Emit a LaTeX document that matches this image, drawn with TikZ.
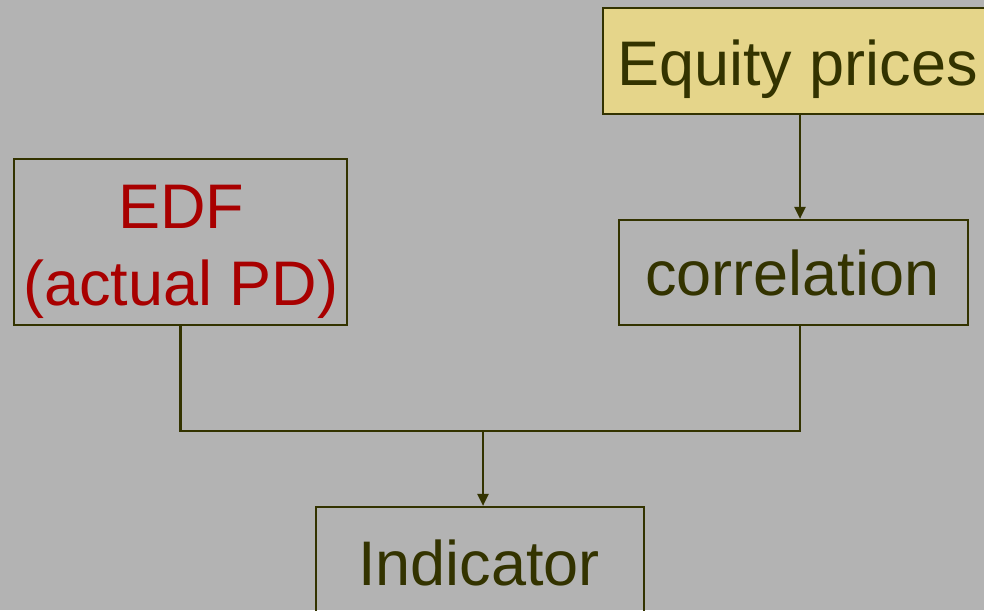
\documentclass[tikz,border=0pt]{standalone}
\usepackage{fontspec}
\setmainfont{Liberation Sans}
\usetikzlibrary{arrows.meta}
\definecolor{bgray}{HTML}{B3B3B3}
\definecolor{olive}{HTML}{333300}
\definecolor{sand}{HTML}{E5D58A}
\definecolor{deepred}{HTML}{A80000}
\tikzset{
  box/.style={draw=olive, line width=2.2pt, rectangle, inner sep=0pt},
  label text/.style={anchor=base, inner sep=0pt, text=olive, font=\fontsize{63}{77}\selectfont},
  link/.style={draw=olive, line width=2.2pt},
  arrowlink/.style={link, -{Triangle[width=11pt,length=12pt]}},
}
\begin{document}
\begin{tikzpicture}[x=1pt,y=-1pt]
  \fill[bgray] (0,0) rectangle (984,610);
  \useasboundingbox (0,0) rectangle (984,610);

  % boxes
  \node[box, fill=sand, minimum width=392pt, minimum height=106pt] (eq) at (799,61) {};
  \node[box, minimum width=333pt, minimum height=166pt] (edf) at (180.5,242) {};
  \node[box, minimum width=349pt, minimum height=105pt] (corr) at (793.5,272.5) {};
  \node[box, minimum width=328pt, minimum height=106pt] (ind) at (480,560) {};

  % texts
  \node[label text] (teq) at (797.5,85) {Equity prices};
  \node[label text, text=deepred] (tedf1) at (181,228) {EDF};
  \node[label text, text=deepred] (tedf2) at (181,305) {(actual PD)};
  \node[label text] (tcorr) at (792.5,295) {correlation};
  \node[label text] (tind) at (479,585) {Indicator};

  % connectors
  \coordinate (col) at (800,0);
  \coordinate (merge) at (483,431);
  \draw[arrowlink] (eq.south -| col) -- (corr.north -| col);
  \draw[link] (edf.south) |- (merge) -| (corr.south -| col);
  \draw[arrowlink] (merge) -- (ind.north -| merge);
\end{tikzpicture}
\end{document}
